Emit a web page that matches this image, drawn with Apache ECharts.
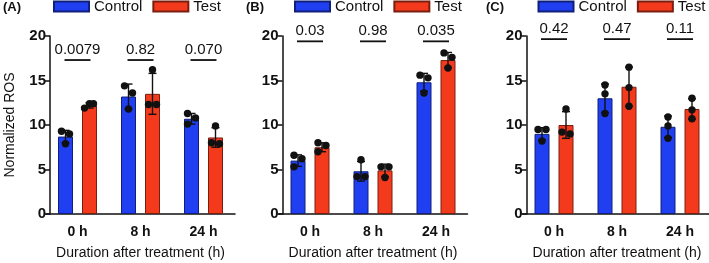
<!DOCTYPE html>
<html>
<head>
<meta charset="utf-8">
<script src="https://cdn.jsdelivr.net/npm/echarts@6/dist/echarts.min.js"></script>
<style>
  html, body { margin: 0; padding: 0; background: #fff; }
  #chart { width: 709px; height: 263px; }
</style>
</head>
<body>
<div id="chart"></div>
<script>
// categories and panel titles
const categories = ['0 h', '8 h', '24 h'];
const panelLabels = ['(A)', '(B)', '(C)'];

// bar means, one row per panel (A, B, C)
const controlMeans = [[8.7, 13.2, 10.7], [6.0, 4.8, 14.8], [9.0, 13.0, 9.8]];
const testMeans = [[12.2, 13.5, 8.6], [7.5, 4.9, 17.3], [10.0, 14.3, 11.8]];

// error bar half-lengths (SD)
const controlSD = [[0.7, 1.4, 0.6], [0.65, 1.1, 1.0], [0.7, 1.6, 1.2]];
const testSD = [[0.3, 2.3, 1.1], [0.5, 0.7, 0.85], [1.5, 2.2, 1.15]];

// individual replicate points
const controlPoints = [
  [[9.3, 9.0, 7.9], [14.4, 13.6, 11.8], [11.3, 10.8, 10.1]],
  [[6.6, 6.2, 5.3], [6.1, 4.2, 4.2], [15.6, 15.3, 13.6]],
  [[9.5, 9.5, 8.2], [14.5, 13.5, 11.3], [10.9, 9.9, 8.5]]
];
const testPoints = [
  [[12.4, 12.4, 11.9], [16.2, 12.3, 12.3], [9.9, 8.0, 7.9]],
  [[8.0, 7.7, 7.0], [5.3, 5.3, 4.1], [18.1, 17.6, 16.4]],
  [[11.8, 9.2, 9.0], [16.5, 14.2, 12.1], [13.0, 11.7, 10.7]]
];

// p-values and height of the comparison line
const pValues = [['0.0079', '0.82', '0.070'], ['0.03', '0.98', '0.035'], ['0.42', '0.47', '0.11']];
const pLineLevel = [17.3, 19.4, 19.65];

const BLUE = '#1f3ff0';
const RED = '#f43a1c';
const FONT = "'Liberation Sans', Arial, Helvetica, sans-serif";
const gridLefts = [46, 278.5, 522.5];
const legendLefts = [53, 294, 537.5];
const labelLefts = [3, 246, 486];
const BAR_W = 15;
const HALF_SPACING = 12; // distance from category centre to bar centre

const chart = echarts.init(document.getElementById('chart'));

// horizontal offsets for replicate points so close ones don't overlap
function jitter(ys) {
  const idx = ys.map((y, i) => i).sort((a, b) => ys[a] - ys[b]);
  const offs = [0, 0, 0];
  let clusters = [[idx[0]]];
  for (let k = 1; k < idx.length; k++) {
    if (Math.abs(ys[idx[k]] - ys[idx[k - 1]]) < 8.5) clusters[clusters.length - 1].push(idx[k]);
    else clusters.push([idx[k]]);
  }
  clusters.forEach(c => {
    if (c.length === 2) { offs[c[0]] = -4; offs[c[1]] = 4; }
    if (c.length === 3) {
      const span = Math.abs(ys[c[0]] - ys[c[2]]);
      const pat = span < 7 ? [0, 4, -5] : [-4, 4, -4];
      c.forEach((i, k) => { offs[i] = pat[k]; });
    }
  });
  return offs;
}

function errorPointRender(side) {
  return function (params, api) {
    const cat = api.value(0);
    const mean = api.value(1);
    const sd = api.value(2);
    const base = api.coord([cat, mean]);
    const cx = base[0] + side * HALF_SPACING;
    const top = api.coord([cat, mean + sd])[1];
    const bot = api.coord([cat, mean - sd])[1];
    const ys = [3, 4, 5].map(d => api.coord([cat, api.value(d)])[1]);
    const offs = jitter(ys);
    const st = { stroke: '#111', lineWidth: 1.4 };
    const children = [
      { type: 'line', shape: { x1: cx, y1: top, x2: cx, y2: bot }, style: st },
      { type: 'line', shape: { x1: cx - 4, y1: top, x2: cx + 4, y2: top }, style: st },
      { type: 'line', shape: { x1: cx - 4, y1: bot, x2: cx + 4, y2: bot }, style: st }
    ];
    ys.forEach((y, i) => {
      children.push({ type: 'circle', shape: { cx: cx + offs[i], cy: y, r: 3.7 }, style: { fill: '#111' } });
    });
    return { type: 'group', children: children };
  };
}

function sigRender(p) {
  return function (params, api) {
    const c = api.coord([api.value(0), api.value(1)]);
    return {
      type: 'group',
      children: [
        { type: 'line', shape: { x1: c[0] - 13, y1: c[1], x2: c[0] + 13, y2: c[1] }, style: { stroke: '#111', lineWidth: 1.8 } },
        { type: 'text', x: c[0], y: c[1] - 3, style: {
          text: pValues[p][params.dataIndex], fill: '#111', font: '15px ' + FONT,
          align: 'center', verticalAlign: 'bottom' } }
      ]
    };
  };
}

const grids = [], xAxes = [], yAxes = [], legends = [], series = [], graphics = [];

for (let p = 0; p < 3; p++) {
  grids.push({ left: gridLefts[p], width: 189, top: 36, bottom: 49, containLabel: false, outerBoundsMode: 'none' });
  xAxes.push({
    type: 'category', gridIndex: p, data: categories,
    axisLine: { lineStyle: { color: '#111', width: 1.5 } },
    axisTick: { alignWithLabel: true, length: 5, lineStyle: { color: '#111', width: 1.5 } },
    axisLabel: { color: '#111', fontWeight: 'bold', fontSize: 14, fontFamily: FONT, margin: 11 },
    name: 'Duration after treatment (h)', nameLocation: 'middle', nameGap: 32,
    nameTextStyle: { color: '#111', fontSize: 14, fontFamily: FONT }
  });
  yAxes.push({
    type: 'value', gridIndex: p, min: 0, max: 20, interval: 5, offset: -4,
    axisLine: { show: true, lineStyle: { color: '#111', width: 1.5 } },
    axisTick: { show: true, length: 5, lineStyle: { color: '#111', width: 1.5 } },
    axisLabel: { color: '#111', fontWeight: 'bold', fontSize: 15, fontFamily: FONT, margin: 4 },
    splitLine: { show: false },
    name: p === 0 ? 'Normalized ROS' : '', nameLocation: 'middle', nameGap: 33,
    nameTextStyle: { color: '#111', fontSize: 14, fontFamily: FONT }
  });
  legends.push({
    data: ['Control', 'Test'], left: legendLefts[p], top: -1, padding: 0,
    itemWidth: 35, itemHeight: 10, itemGap: 10, icon: 'rect',
    textStyle: { color: '#111', fontSize: 15, fontFamily: FONT }
  });
  graphics.push({
    type: 'text', left: labelLefts[p], top: 1,
    style: { text: panelLabels[p], fill: '#111', font: 'bold 13px ' + FONT }
  });

  series.push({
    name: 'Control', type: 'bar', xAxisIndex: p, yAxisIndex: p,
    barWidth: BAR_W, barGap: '60%', data: controlMeans[p],
    itemStyle: { color: BLUE, borderColor: '#10207a', borderWidth: 1 }
  });
  series.push({
    name: 'Test', type: 'bar', xAxisIndex: p, yAxisIndex: p,
    barWidth: BAR_W, barGap: '60%', data: testMeans[p],
    itemStyle: { color: RED, borderColor: '#7a1e10', borderWidth: 1 }
  });
  series.push({
    type: 'custom', xAxisIndex: p, yAxisIndex: p, z: 5,
    renderItem: errorPointRender(-1), encode: { x: 0, y: 1 },
    data: categories.map((c, i) => [i, controlMeans[p][i], controlSD[p][i]].concat(controlPoints[p][i]))
  });
  series.push({
    type: 'custom', xAxisIndex: p, yAxisIndex: p, z: 5,
    renderItem: errorPointRender(1), encode: { x: 0, y: 1 },
    data: categories.map((c, i) => [i, testMeans[p][i], testSD[p][i]].concat(testPoints[p][i]))
  });
  series.push({
    type: 'custom', xAxisIndex: p, yAxisIndex: p, z: 5, clip: false,
    renderItem: sigRender(p), encode: { x: 0, y: 1 },
    data: categories.map((c, i) => [i, pLineLevel[p]])
  });
}

chart.setOption({
  animation: false,
  backgroundColor: '#fff',
  textStyle: { fontFamily: FONT },
  grid: grids,
  xAxis: xAxes,
  yAxis: yAxes,
  legend: legends,
  graphic: graphics,
  series: series
});

window.addEventListener('resize', () => chart.resize());
</script>
</body>
</html>
